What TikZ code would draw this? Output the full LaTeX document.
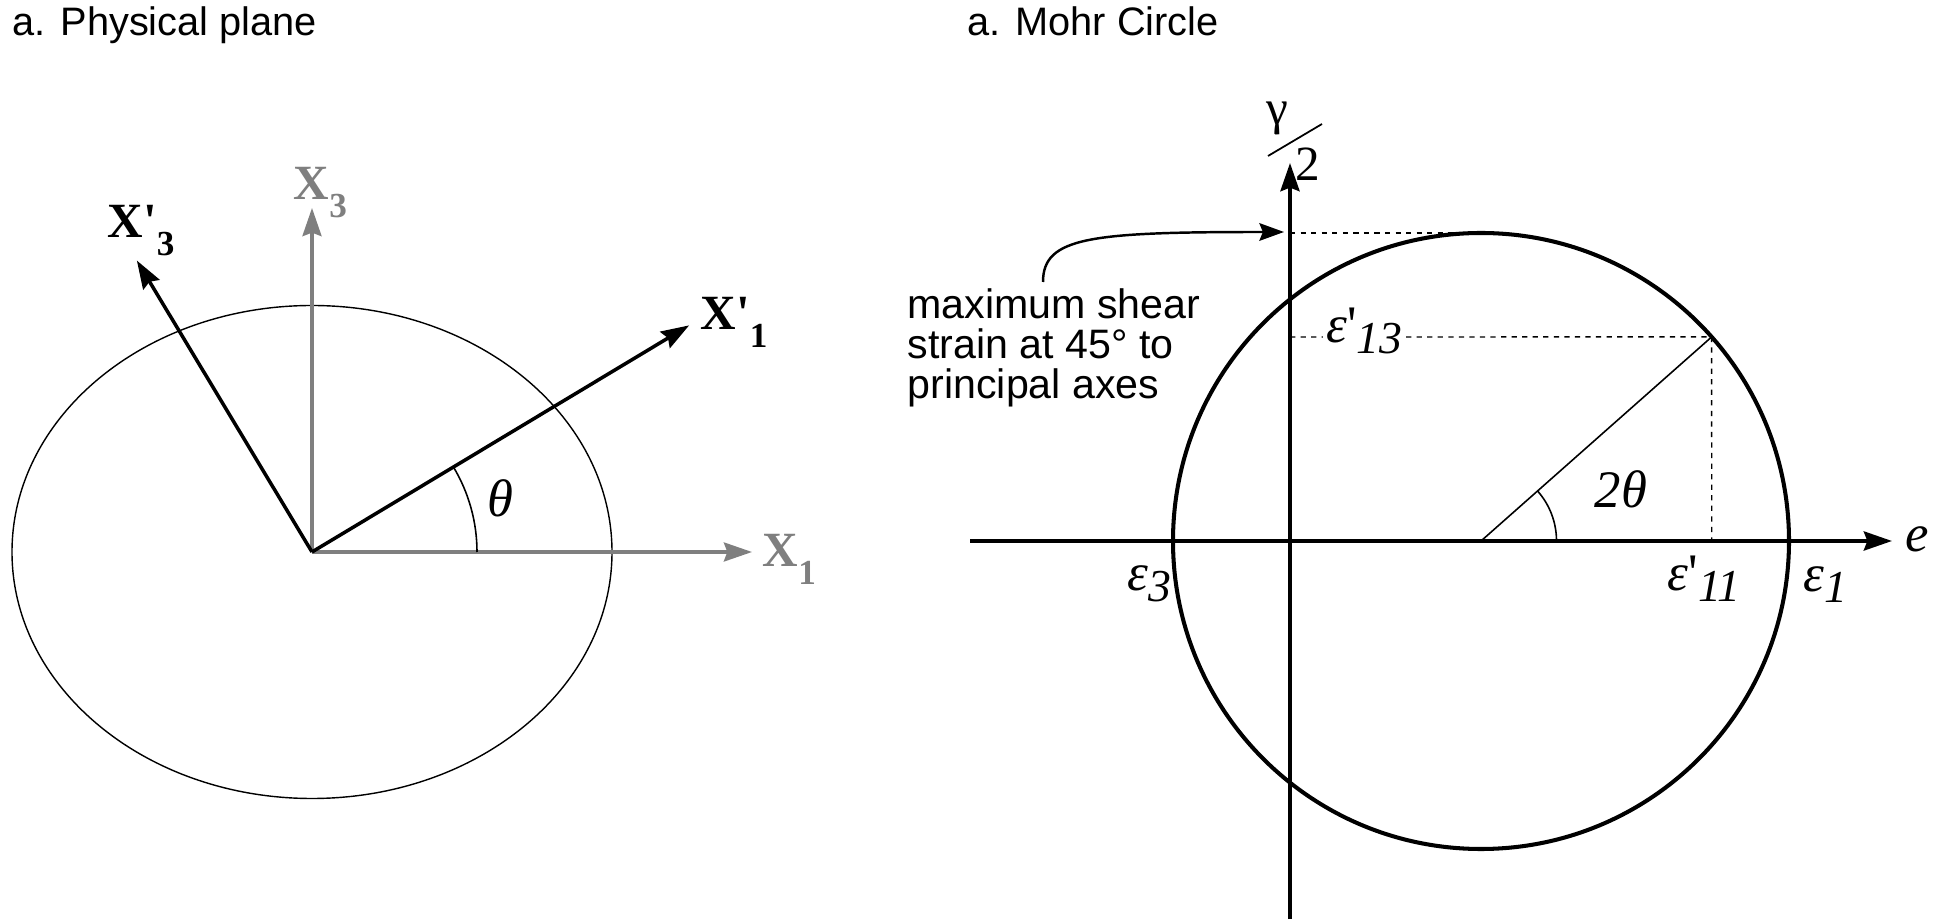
\documentclass[tikz,border=0pt]{standalone}
\usepackage{fontspec}
\setmainfont{Liberation Serif}
\newfontfamily\helv{Liberation Sans}
\usetikzlibrary{arrows.meta}
\definecolor{axgray}{HTML}{7F7F7F}
\newcommand{\lsub}[2][5pt]{\raisebox{-#1}{#2}}

\begin{document}
\begin{tikzpicture}[x=0.01cm, y=0.01cm,
  ttl/.style={font=\helv\fontsize{11.3}{13}\selectfont, anchor=base west, inner sep=0pt},
  note/.style={font=\helv\fontsize{11.7}{11.4}\selectfont, align=left, anchor=north west, inner sep=0pt},
  xl/.style={font=\bfseries\fontsize{14}{14}\selectfont, anchor=base west, inner sep=0pt},
  xg/.style={xl, text=axgray},
  grk/.style={font=\itshape\fontsize{15}{15}\selectfont, anchor=base west, inner sep=0pt},
  arrtip/.style={-{Stealth[length=8pt, width=5.4pt, inset=1pt]}},
  gax/.style={arrtip, draw=axgray, line width=0.95pt},
  bax/.style={arrtip, line width=1pt},
  mohr/.style={line width=1.15pt},
  thinl/.style={line width=0.45pt},
  dsh/.style={line width=0.4pt, dash pattern=on 1.5pt off 1.5pt}]
\useasboundingbox (0,0) rectangle (1942,921);
% titles
\node[ttl] (t1) at (12,885) {a. Physical plane};
\node[ttl] (t2) at (967,885) {a. Mohr Circle};
% physical plane
\coordinate (O) at (312,369);
\draw[line width=0.4pt] (O) ellipse[x radius=300, y radius=246.5];
\coordinate (x1) at (752,369);
\coordinate (x3) at (312,713);
\path (O) ++(31:440) coordinate (x1p);
\path (O) ++(121:340) coordinate (x3p);
\draw[gax] (O) -- (x1);
\draw[gax] (O) -- (x3);
\draw[bax] (O) -- (x1p);
\draw[bax] (O) -- (x3p);
\draw[thinl] (O) ++(165,0) arc[start angle=0, end angle=31, radius=165];
\node[xg] (lx1) at (762,354) {X\lsub{\fontsize{10}{10}\selectfont 1}};
\node[xg] (lx3) at (293,721) {X\lsub{\fontsize{10}{10}\selectfont 3}};
\node[xl] (lx1p) at (700,591) {X\textquotesingle\lsub{\fontsize{10}{10}\selectfont 1}};
\node[xl] (lx3p) at (107,683) {X\textquotesingle\lsub{\fontsize{10}{10}\selectfont 3}};
\node[grk] (th) at (487,404) {θ};
% Mohr circle
\coordinate (C) at (1481,380);
\coordinate (hs) at (970,380);
\coordinate (he) at (1892,380);
\coordinate (vs) at (1290,2);
\coordinate (ve) at (1290,758);
\draw[mohr, arrtip] (hs) -- (he);
\draw[mohr, arrtip] (vs) -- (ve);
\draw[mohr] (C) circle[radius=308];
\path (C) ++(41.5:308) coordinate (P);
\coordinate (ctop) at (1481,688);
\coordinate (vtop) at (1290,688);
\coordinate (v13) at (1290,584);
\coordinate (h11) at (1711.7,380);
\draw[thinl] (C) -- (P);
\draw[thinl] (C) ++(75.5,0) arc[start angle=0, end angle=41.5, radius=75.5];
\draw[dsh] (vtop) -- (ctop);
\draw[dsh] (v13) -- (P);
\draw[dsh] (P) -- (h11);
\node[grk, fill=white, inner xsep=1pt] (e13) at (1322,578)
  {ε{\upshape\textquotesingle}\lsub[3pt]{\fontsize{13}{13}\selectfont 13}};
\node[grk] (e3) at (1127,330) {ε\lsub[3pt]{\fontsize{13}{13}\selectfont 3}};
\node[grk] (e11) at (1667,330) {ε{\upshape\textquotesingle}\lsub[3pt]{\fontsize{13}{13}\selectfont 11}};
\node[grk] (e1) at (1803,329) {ε\lsub[3pt]{\fontsize{13}{13}\selectfont 1}};
\node[grk] (ee) at (1905,369) {e};
\node[grk] (tth) at (1594,413) {2θ};
% gamma over 2
\node[font=\fontsize{14}{14}\selectfont, inner sep=0pt] (gam) at (1277,803) {γ};
\node[font=\fontsize{14}{14}\selectfont, inner sep=0pt] (two) at (1308,757) {2};
\coordinate (sl1) at (1268,765);
\coordinate (sl2) at (1322,797);
\draw[line width=0.5pt] (sl1) -- (sl2);
% note with curved arrow
\node[note] (nt) at (907,633) {maximum shear\\strain at 45° to\\principal axes};
\coordinate (cs) at (1043,639);
\coordinate (ce) at (1284,689);
\draw[line width=0.7pt, -{Stealth[length=7pt, width=5pt, inset=1pt]}]
  (cs) .. controls (1043,684) and (1090,689) .. (ce);
\end{tikzpicture}
\end{document}
